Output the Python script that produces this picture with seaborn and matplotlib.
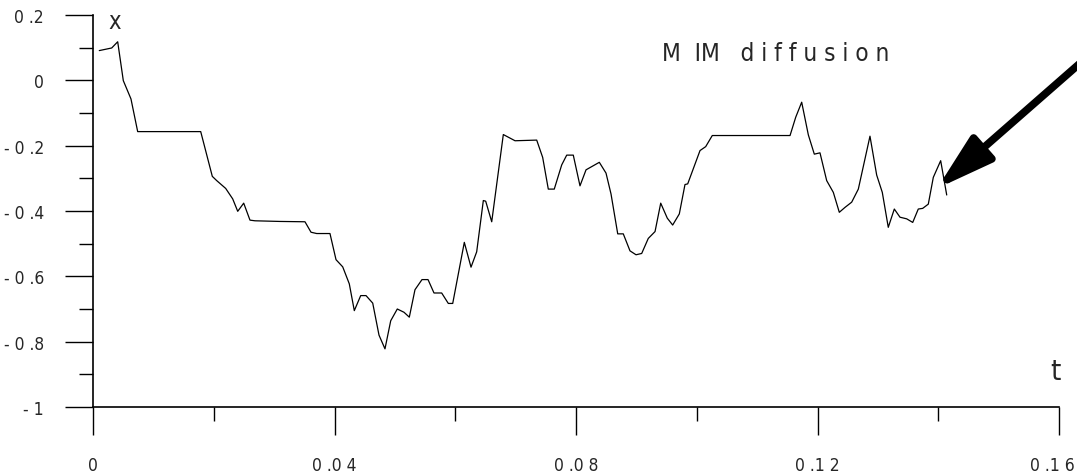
import matplotlib
matplotlib.use("Agg")
import matplotlib.pyplot as plt
from matplotlib import font_manager
import matplotlib.transforms as mtransforms
import numpy as np
import pandas as pd
import seaborn as sns

# MIM diffusion sample path: time t and position x
t_vals = [0.00104, 0.00310, 0.00409, 0.00502, 0.00629, 0.00740, 0.01784, 0.01976,
          0.02049, 0.02198, 0.02314, 0.02397, 0.02496, 0.02600, 0.02683, 0.03097,
          0.03511, 0.03611, 0.03705, 0.03925, 0.04025, 0.04136, 0.04245, 0.04328,
          0.04434, 0.04522, 0.04633, 0.04737, 0.04836, 0.04931, 0.05040, 0.05151,
          0.05239, 0.05333, 0.05449, 0.05549, 0.05648, 0.05775, 0.05885, 0.05958,
          0.06150, 0.06261, 0.06355, 0.06465, 0.06504, 0.06604, 0.06796, 0.06990,
          0.07349, 0.07448, 0.07541, 0.07640, 0.07763, 0.07846, 0.07955, 0.08066,
          0.08166, 0.08386, 0.08497, 0.08580, 0.08691, 0.08783, 0.08894, 0.08994,
          0.09088, 0.09197, 0.09309, 0.09403, 0.09512, 0.09601, 0.09711, 0.09805,
          0.09850, 0.10054, 0.10148, 0.10257, 0.11545, 0.11639, 0.11738, 0.11848,
          0.11947, 0.12041, 0.12152, 0.12262, 0.12361, 0.12455, 0.12566, 0.12676,
          0.12869, 0.12980, 0.13073, 0.13172, 0.13272, 0.13366, 0.13477, 0.13577,
          0.13669, 0.13742, 0.13835, 0.13918, 0.14040, 0.14140]
x_vals = [0.091, 0.099, 0.118, -0.001, -0.057, -0.157, -0.157, -0.294,
          -0.307, -0.331, -0.363, -0.401, -0.376, -0.428, -0.430, -0.432,
          -0.433, -0.465, -0.469, -0.469, -0.549, -0.571, -0.623, -0.705,
          -0.659, -0.659, -0.682, -0.780, -0.822, -0.736, -0.700, -0.710,
          -0.725, -0.641, -0.610, -0.610, -0.651, -0.651, -0.683, -0.683,
          -0.496, -0.572, -0.525, -0.368, -0.370, -0.433, -0.166, -0.185,
          -0.183, -0.236, -0.333, -0.333, -0.259, -0.229, -0.229, -0.323,
          -0.274, -0.251, -0.284, -0.348, -0.470, -0.470, -0.522, -0.534,
          -0.530, -0.484, -0.463, -0.376, -0.422, -0.443, -0.409, -0.319,
          -0.317, -0.215, -0.203, -0.169, -0.169, -0.113, -0.067, -0.167,
          -0.226, -0.222, -0.307, -0.343, -0.404, -0.389, -0.373, -0.333,
          -0.171, -0.290, -0.343, -0.450, -0.394, -0.419, -0.424, -0.435,
          -0.394, -0.392, -0.379, -0.297, -0.246, -0.351]

x_major = [0.0, 0.04, 0.08, 0.12, 0.16]
x_minor = [0.02, 0.06, 0.10, 0.14]
x_ticklabels = ["0", "0 .0 4", "0 .0 8", "0 .1 2", "0 .1 6"]
y_major = [0.2, 0.0, -0.2, -0.4, -0.6, -0.8, -1.0]
y_minor = [0.1, -0.1, -0.3, -0.5, -0.7, -0.9]
y_ticklabels = ["0 .2", "0", "- 0 .2", "- 0 .4", "- 0 .6", "- 0 .8", "- 1"]

title_text = "M  IM   d i f f u s i o n"
x_axis_name = "t"
y_axis_name = "x"

# arrow pointing at the end of the path (tip and tail in data units)
arrow_tip = (0.1398, -0.331)
arrow_tail = (0.1660, 0.093)

sns.set_style("ticks")

# prefer a narrow sans face for the labels
fonts = font_manager.fontManager.ttflist
names = {f.name for f in fonts}
stretch = "normal"
if "Liberation Sans Narrow" in names:
    family = ["Liberation Sans Narrow", "DejaVu Sans"]
elif any(f.name == "DejaVu Sans" and str(f.stretch) in ("condensed", "semi-condensed")
         for f in fonts):
    family = ["DejaVu Sans"]
    stretch = "condensed"
else:
    family = ["Liberation Sans", "DejaVu Sans"]
plt.rcParams["font.family"] = family
plt.rcParams["font.stretch"] = stretch
narrow = family[0] != "Liberation Sans"

fig = plt.figure(figsize=(10.77, 4.77), dpi=100)
ax = fig.add_axes([0.08635, 0.14465, 0.89695, 0.82185])

df = pd.DataFrame({"t": t_vals, "x": x_vals})
sns.lineplot(data=df, x="t", y="x", ax=ax, color="black", linewidth=0.9,
             sort=False, estimator=None)

ax.set_xlim(0, 0.16)
ax.set_ylim(-1, 0.2)
for s in ("top", "right"):
    ax.spines[s].set_visible(False)
for s in ("left", "bottom"):
    ax.spines[s].set_linewidth(1.2)
    ax.spines[s].set_color("black")

ax.set_xticks(x_major)
ax.set_xticks(x_minor, minor=True)
ax.set_xticklabels(x_ticklabels)
ax.set_yticks(y_major)
ax.set_yticks(y_minor, minor=True)
ax.set_yticklabels(y_ticklabels)

tick_size = 12.5 if narrow else 11.5
ax.tick_params(axis="both", which="major", direction="out", length=20.2,
               width=1.0, color="black", pad=15, labelsize=tick_size)
ax.tick_params(axis="both", which="minor", direction="out", length=10.1,
               width=1.0, color="black")
for line in ax.xaxis.get_ticklines() + ax.yaxis.get_ticklines():
    line.set_clip_on(False)

# nudge the rightmost time label inward so it stays on the canvas
last = ax.get_xticklabels()[-1]
last.set_transform(last.get_transform() +
                   mtransforms.ScaledTranslation(-5 / 72, 0, fig.dpi_scale_trans))

ax.set_xlabel("")
ax.set_ylabel("")

fig.text(0.1068, 0.9539, y_axis_name, ha="center", va="center", fontsize=17)
fig.text(0.9796, 0.2201, x_axis_name, ha="center", va="center", fontsize=21)
fig.text(0.6147, 0.8868, title_text, ha="left", va="center",
         fontsize=17.5 if narrow else 17)

ax.annotate("", xy=arrow_tip, xytext=arrow_tail, xycoords="data",
            textcoords="data", annotation_clip=False,
            arrowprops=dict(arrowstyle="-|>,head_length=3.4,head_width=1.0",
                            mutation_scale=10, lw=5.5, color="black",
                            shrinkA=0, shrinkB=0))

fig.savefig("out.png", dpi=100)
